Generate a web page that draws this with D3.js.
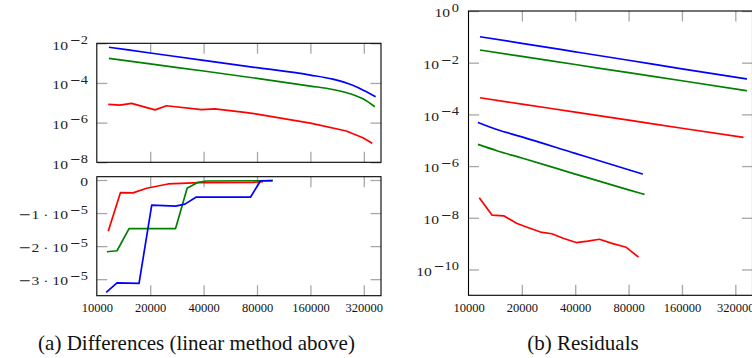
<!DOCTYPE html>
<html><head><meta charset="utf-8">
<script src="https://cdn.jsdelivr.net/npm/d3@7"></script>
<style>body{margin:0;background:#fff}svg{display:block}</style>
</head><body>
<svg id="c" width="752" height="358"></svg>
<script>
// ---------- data ----------
const xTickValues = [10000, 20000, 40000, 80000, 160000, 320000];
const xTickLabels = ["10000", "20000", "40000", "80000", "160000", "320000"];

// (a) top: differences, log scale
const diffBlueX  = [11700, 20000, 40000, 80000, 160000, 214000, 277000, 320000, 373000];
const diffBlueY  = [6.3e-3, 3.25e-3, 1.38e-3, 5.9e-4, 2.5e-4, 1.55e-4, 7.6e-5, 4.2e-5, 2.04e-5];
const diffGreenX = [11700, 20000, 40000, 80000, 160000, 214000, 277000, 320000, 369000];
const diffGreenY = [1.75e-3, 9.1e-4, 4.0e-4, 1.7e-4, 7.0e-5, 4.7e-5, 2.6e-5, 1.5e-5, 6.3e-6];
const diffRedX   = [11600, 13500, 15700, 21300, 24700, 38900, 46300, 68200, 80000, 160000, 255000, 316000, 357000];
const diffRedY   = [8.4e-6, 7.7e-6, 9.4e-6, 4.4e-6, 7.1e-6, 4.5e-6, 4.9e-6, 3.3e-6, 2.7e-6, 9.5e-7, 3.8e-7, 1.74e-7, 9.1e-8];
const diffTopTicks = [1e-2, 1e-4, 1e-6, 1e-8];
const diffTopExps  = ["−2", "−4", "−6", "−8"];

// (a) bottom: differences, linear scale
const linRedX   = [11600, 13600, 16000, 19100, 25200, 38000, 76000, 86500];
const linRedY   = [-1.55e-5, -0.38e-5, -0.39e-5, -0.25e-5, -0.12e-5, -0.08e-5, -0.07e-5, -0.05e-5];
const linGreenX = [11400, 13000, 15200, 27800, 32300, 37200, 41500, 98400];
const linGreenY = [-2.17e-5, -2.14e-5, -1.47e-5, -1.47e-5, -0.25e-5, -0.07e-5, -0.03e-5, -0.02e-5];
const linBlueX  = [11300, 13000, 17300, 20400, 27800, 31400, 36200, 73500, 83600, 97700];
const linBlueY  = [-3.40e-5, -3.11e-5, -3.13e-5, -0.76e-5, -0.79e-5, -0.73e-5, -0.52e-5, -0.52e-5, -0.03e-5, -0.02e-5];
const linTicks  = [0, -1e-5, -2e-5, -3e-5];
const linTickMantissa = ["0", "1", "2", "3"];

// (b) residuals, log scale
const resBlueUpX  = [11600, 20000, 40000, 80000, 160000, 372000];
const resBlueUpY  = [0.101, 0.0561, 0.0264, 0.0124, 5.8e-3, 2.33e-3];
const resGreenUpX = [11600, 20000, 40000, 80000, 160000, 372000];
const resGreenUpY = [0.031, 0.0175, 8.5e-3, 4.1e-3, 2.0e-3, 8.2e-4];
const resRedUpX   = [11600, 20000, 40000, 80000, 160000, 356000];
const resRedUpY   = [4.4e-4, 2.5e-4, 1.23e-4, 6.0e-5, 2.9e-5, 1.29e-5];
const resBlueLoX  = [11300, 14600, 20000, 40000, 80000, 96300];
const resBlueLoY  = [4.9e-5, 2.55e-5, 1.35e-5, 3.1e-6, 7.2e-7, 4.9e-7];
const resGreenLoX = [11300, 14600, 20000, 40000, 80000, 98400];
const resGreenLoY = [6.9e-6, 3.85e-6, 2.05e-6, 4.9e-7, 1.2e-7, 8.0e-8];
const resRedLoX   = [11500, 13600, 15800, 18800, 21800, 25500, 29500, 34500, 40500, 47100, 54800, 65200, 77600, 91000];
const resRedLoY   = [5.9e-8, 1.26e-8, 1.19e-8, 6.0e-9, 4.1e-9, 2.8e-9, 2.4e-9, 1.58e-9, 1.1e-9, 1.24e-9, 1.47e-9, 1.0e-9, 7.2e-10, 3.0e-10];
const resTicks = [1, 1e-2, 1e-4, 1e-6, 1e-8, 1e-10];
const resExps  = ["0", "−2", "−4", "−6", "−8", "−10"];

const captions = ["(a) Differences (linear method above)", "(b) Residuals"];

// ---------- styles ----------
const C = {blue: "#0000ff", green: "#008000", red: "#ff0000"};
const TICK = "#a8a8a8", TL = 10.5;
const serif = "'Liberation Serif', 'Times New Roman', serif";

const svg = d3.select("#c");

// ---------- scales ----------
const xA = d3.scaleLog().base(2).domain([10000, 400000]).range([96.8, 381]);
const yTop = d3.scaleLog().domain([1e-8, 1e-2]).range([162.3, 43.3]);
const yLin = d3.scaleLinear().domain([-3.5e-5, 1e-6]).range([295.7, 176.7]);
const xB = d3.scaleLog().base(2).domain([10000, 400000]).range([468.5, 752.5]);
const yRes = d3.scaleLog().domain([1e-11, 1]).range([295.3, 11]);

function panel(x, y, xTicksShown, yTicks) {
  const [x0, x1] = x.range(); const [y0, y1] = y.range();
  const g = svg.append("g");
  const style = sel => {
    sel.select(".domain").remove();
    sel.selectAll(".tick line").attr("stroke", TICK).attr("stroke-width", 1.3);
    sel.selectAll(".tick text").remove();
  };
  g.append("g").attr("transform", `translate(0,${y0})`)
    .call(d3.axisBottom(x).tickValues(xTicksShown).tickSize(-TL)).call(style);
  g.append("g").attr("transform", `translate(0,${y1})`)
    .call(d3.axisTop(x).tickValues(xTicksShown).tickSize(-TL)).call(style);
  g.append("g").attr("transform", `translate(${x0},0)`)
    .call(d3.axisLeft(y).tickValues(yTicks).tickSize(-TL)).call(style);
  g.append("g").attr("transform", `translate(${x1},0)`)
    .call(d3.axisRight(y).tickValues(yTicks).tickSize(-TL)).call(style);
  return g;
}

function frame(x, y) {
  const [x0, x1] = x.range(); const [y0, y1] = y.range();
  svg.append("rect").attr("x", x0).attr("y", y1).attr("width", x1 - x0).attr("height", y0 - y1)
    .attr("fill", "none").attr("stroke", "#000").attr("stroke-width", 1.1);
}

function series(x, y, xs, ys, color, smooth) {
  const line = d3.line().x(d => x(d[0])).y(d => y(d[1]));
  if (smooth) line.curve(d3.curveMonotoneX);
  svg.append("path").datum(d3.zip(xs, ys)).attr("d", line)
    .attr("fill", "none").attr("stroke", color).attr("stroke-width", 1.7)
    .attr("stroke-linejoin", "round").attr("stroke-linecap", "butt");
}

function supLabel(xRight, yTick, parts) {
  const t = svg.append("text")
    .attr("transform", `translate(${xRight},${yTick + 6.3}) scale(1.2,1)`)
    .attr("text-anchor", "end").attr("font-family", serif).attr("font-size", 13).attr("fill", "#222");
  parts.forEach(p => {
    const s = t.append("tspan").text(p.t);
    if (p.font) s.attr("font-family", p.font);
    if (p.size) s.attr("font-size", p.size);
    if (p.dy) s.attr("dy", p.dy);
    if (p.dx) s.attr("dx", p.dx);
  });
}
const MINUS_FONT = "'DejaVu Sans', sans-serif";

// ---------- (a) top ----------
panel(xA, yTop, xTickValues.slice(1), diffTopTicks);
series(xA, yTop, diffRedX, diffRedY, C.red, false);
series(xA, yTop, diffGreenX, diffGreenY, C.green, true);
series(xA, yTop, diffBlueX, diffBlueY, C.blue, true);
frame(xA, yTop);
diffTopTicks.forEach((v, i) => supLabel(88, yTop(v), [
  {t: "10"},
  {t: "−", font: MINUS_FONT, size: 11, dy: -5.5, dx: 1.5},
  {t: diffTopExps[i].slice(1), size: 12}
]));

// ---------- (a) bottom ----------
panel(xA, yLin, xTickValues.slice(1), linTicks);
series(xA, yLin, linRedX, linRedY, C.red, false);
series(xA, yLin, linGreenX, linGreenY, C.green, false);
series(xA, yLin, linBlueX, linBlueY, C.blue, false);
frame(xA, yLin);
linTicks.forEach((v, i) => {
  if (v === 0) { supLabel(88, yLin(v), [{t: "0"}]); return; }
  supLabel(88, yLin(v), [
    {t: "−", font: MINUS_FONT},
    {t: linTickMantissa[i] + " · 10"},
    {t: "−", font: MINUS_FONT, size: 11, dy: -5.5, dx: 1.5},
    {t: "5", size: 12}
  ]);
});
svg.append("g").attr("transform", `translate(0,${yLin.range()[0]})`)
  .call(d3.axisBottom(xA).tickValues(xTickValues).tickFormat((d, i) => xTickLabels[i]).tickSize(0).tickPadding(7.5))
  .call(sel => { sel.select(".domain").remove();
    sel.selectAll("text").attr("font-family", serif).attr("font-size", 12.5).attr("fill", "#111"); });

// ---------- (b) residuals ----------
panel(xB, yRes, xTickValues.slice(1), resTicks);
series(xB, yRes, resRedLoX, resRedLoY, C.red, false);
series(xB, yRes, resGreenLoX, resGreenLoY, C.green, true);
series(xB, yRes, resBlueLoX, resBlueLoY, C.blue, true);
series(xB, yRes, resRedUpX, resRedUpY, C.red, true);
series(xB, yRes, resGreenUpX, resGreenUpY, C.green, true);
series(xB, yRes, resBlueUpX, resBlueUpY, C.blue, true);
frame(xB, yRes);
resTicks.forEach((v, i) => {
  const e = resExps[i];
  const parts = [{t: "10"}];
  if (e.startsWith("−")) {
    parts.push({t: "−", font: MINUS_FONT, size: 11, dy: -5.5, dx: 1.5});
    parts.push({t: e.slice(1), size: 12});
  } else {
    parts.push({t: e, size: 12, dy: -5.5, dx: 1.5});
  }
  supLabel(459, yRes(v), parts);
});
svg.append("g").attr("transform", `translate(0,${yRes.range()[0]})`)
  .call(d3.axisBottom(xB).tickValues(xTickValues).tickFormat((d, i) => xTickLabels[i]).tickSize(0).tickPadding(7.5))
  .call(sel => { sel.select(".domain").remove();
    sel.selectAll("text").attr("font-family", serif).attr("font-size", 12.5).attr("fill", "#111"); });

// ---------- captions ----------
svg.append("text").attr("x", 196.5).attr("y", 350).attr("text-anchor", "middle")
  .attr("font-family", serif).attr("font-size", 21).attr("fill", "#111").text(captions[0]);
svg.append("text").attr("x", 583).attr("y", 350).attr("text-anchor", "middle")
  .attr("font-family", serif).attr("font-size", 21).attr("fill", "#111").text(captions[1]);
</script>
</body></html>
